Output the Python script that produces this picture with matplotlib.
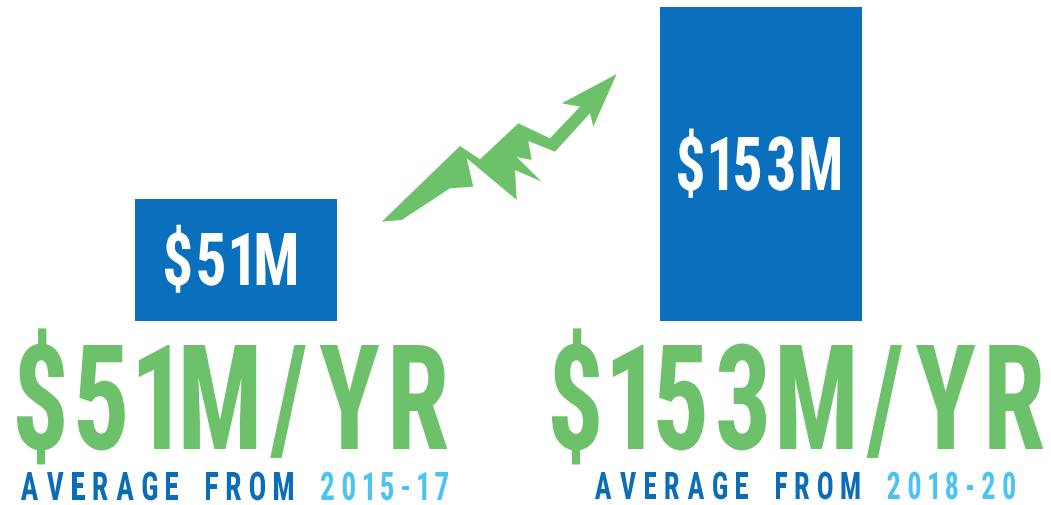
import matplotlib
matplotlib.use("Agg")
import matplotlib.pyplot as plt
from matplotlib import font_manager
from matplotlib.font_manager import FontProperties
from matplotlib.patches import Polygon
from matplotlib.patheffects import AbstractPathEffect
from matplotlib.text import Text
from matplotlib.textpath import TextPath
from matplotlib.transforms import Affine2D, Bbox

# data
periods = ["2015-17", "2018-20"]
values = [51, 153]          # $M per year
sub_label = "AVERAGE FROM "

BLUE = "#0A6FBD"
DARK = "#0B6CB8"
LIGHT = "#4CC4F1"
GREEN = "#6DC16B"
WHITE = "#FFFFFF"
DPI = 100


def pick_font():
    for name in ["Liberation Sans Narrow", "Roboto Condensed", "Liberation Sans"]:
        try:
            font_manager.findfont(FontProperties(family=name, weight="bold"),
                                  fallback_to_default=False)
            return name
        except ValueError:
            pass
    return "DejaVu Sans"


FP = FontProperties(family=pick_font(), weight="bold")


class Squeeze(AbstractPathEffect):
    # narrows the glyphs horizontally (condensed look)
    def __init__(self, sx):
        super().__init__()
        self.sx = sx

    def draw_path(self, renderer, gc, tpath, affine, rgbFace=None):
        renderer.draw_path(gc, tpath, Affine2D().scale(self.sx, 1) + affine, rgbFace)


class NarrowText(Text):
    # a text drawn condensed; its extent is the squeezed ink box
    def __init__(self, x, y, s, sx, ink, **kw):
        super().__init__(x, y, s, **kw)
        self._sx = sx
        self._ink = ink
        self.set_path_effects([Squeeze(sx)])

    def get_window_extent(self, renderer=None, dpi=None):
        ox, oy = self.get_transform().transform(self.get_unitless_position())
        x0, y0, x1, y1 = self._ink
        return Bbox.from_extents(ox + self._sx * x0, oy + y0,
                                 ox + self._sx * x1, oy + y1)


def tracked(ax, parts, left, right, baseline, cap, gap, space=0):
    probe = TextPath((0, 0), "H", size=100, prop=FP).get_extents()
    size = cap * 100 / probe.height
    prop = FP.copy()
    prop.set_size(size * 72 / DPI)
    chars = [(ch, col) for txt, col in parts for ch in txt]
    ink = []
    for ch, _ in chars:
        if ch == " ":
            ink.append(None)
        else:
            e = TextPath((0, 0), ch, size=size, prop=FP).get_extents()
            ink.append((e.x0, e.y0, e.x1, e.y1))
    n_glyph = sum(1 for i in ink if i is not None)
    n_space = len(ink) - n_glyph
    total_ink = sum(i[2] - i[0] for i in ink if i is not None)
    sx = (right - left - gap * (n_glyph - 1 - n_space) - space * n_space) / total_ink
    cursor = left
    for (ch, col), box in zip(chars, ink):
        if box is None:
            cursor += space - gap
            continue
        t = NarrowText(cursor - sx * box[0], baseline, ch, sx, box,
                       fontproperties=prop, color=col,
                       horizontalalignment="left", verticalalignment="baseline")
        ax.add_artist(t)
        cursor += sx * (box[2] - box[0]) + gap


fig = plt.figure(figsize=(10.51, 5.05), dpi=DPI)

# bars
base = -13.4
bx = fig.add_axes([0, (505 - 320.5) / 505, 1, 313.2 / 505])
bx.bar([236, 761], [v - base for v in values], bottom=base, width=202, color=BLUE)
bx.set_xlim(0, 1051)
bx.set_ylim(base, max(values))
bx.set_axis_off()

# overlay in pixel coords
ax = fig.add_axes([0, 0, 1, 1])
ax.set_xlim(0, 1051)
ax.set_ylim(505, 0)
ax.set_axis_off()
ax.patch.set_alpha(0)

arrow = [(381.7, 221.7), (401.7, 220), (450, 188.3), (473.3, 186.7), (466.7, 158.3),
         (516.7, 200), (515, 170), (541.7, 181.7), (516.7, 157), (531.7, 160),
         (528.3, 141), (555, 151.7), (590, 113.3), (593.3, 126.7), (616.7, 74),
         (561.7, 103.3), (580, 106.7), (550, 138.3), (518.3, 123.3), (480, 159.3),
         (460, 146)]
ax.add_patch(Polygon(arrow, closed=True, facecolor=GREEN, edgecolor="none"))

# labels inside bars
tracked(ax, [(f"${values[0]}M", WHITE)], 165, 296, 285, 52, 8)
tracked(ax, [(f"${values[1]}M", WHITE)], 678, 840, 190, 53, 8)

# big green figures
tracked(ax, [(f"${values[0]}M/YR", GREEN)], 17, 447, 449, 104, 14)
tracked(ax, [(f"${values[1]}M/YR", GREEN)], 552, 1043, 449, 104, 14)

# sub labels
tracked(ax, [(sub_label, DARK), (periods[0], LIGHT)], 21, 448, 500, 28, 9, 28)
tracked(ax, [(sub_label, DARK), (periods[1], LIGHT)], 595, 1015, 499, 27, 9, 28)

plt.savefig("out.png", dpi=DPI)
